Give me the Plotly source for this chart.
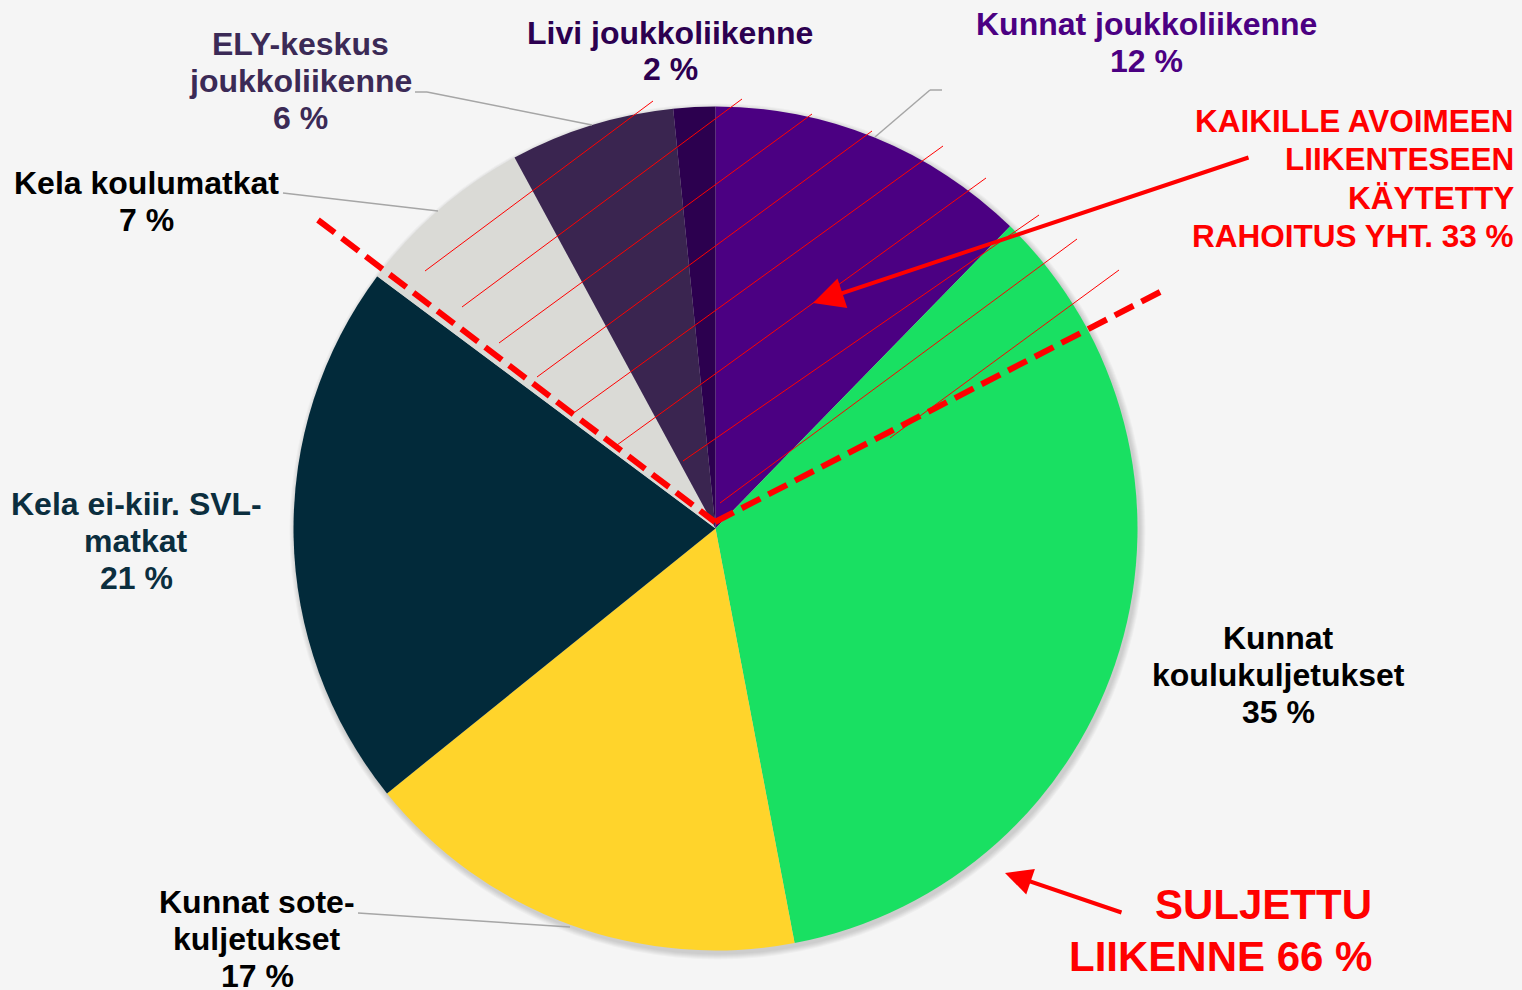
import plotly.graph_objects as go

W, H = 1522, 990

# ---------------- data ----------------
categories = [
    "Kunnat joukkoliikenne",
    "Kunnat koulukuljetukset",
    "Kunnat sote-kuljetukset",
    "Kela ei-kiir. SVL-matkat",
    "Kela koulumatkat",
    "ELY-keskus joukkoliikenne",
    "Livi joukkoliikenne",
]
label_lines = [
    ["Kunnat joukkoliikenne"],
    ["Kunnat", "koulukuljetukset"],
    ["Kunnat sote-", "kuljetukset"],
    ["Kela ei-kiir. SVL-", "matkat"],
    ["Kela koulumatkat"],
    ["ELY-keskus", "joukkoliikenne"],
    ["Livi joukkoliikenne"],
]
shares = [12.3, 34.7, 17.2, 21.0, 6.9, 6.3, 1.6]

open_traffic_lines = ["KAIKILLE AVOIMEEN", "LIIKENTESEEN", "KÄYTETTY", "RAHOITUS YHT. 33 %"]
closed_traffic_lines = ["SULJETTU", "LIIKENNE 66 %"]

# ---------------- styles / positions ----------------
slice_colors = ["#4B0082", "#19E062", "#FFD42B", "#022A3A", "#DADAD6", "#3A2550", "#2C004F"]
label_colors = ["#4B0082", "#000000", "#000000", "#0B2E3E", "#000000", "#3B2A56", "#2C0050"]
label_pos = [(1146, 42.5), (1278, 675), (257, 939), (136, 541), (146, 201), (300, 81), (670, 51)]

CX, CY, R = 715.5, 528.5, 422
FONT = "Liberation Sans, Arial, sans-serif"


def px(x):
    return x / W


def py(y):
    return 1 - y / H


fig = go.Figure()
fig.add_trace(go.Pie(
    labels=categories,
    values=shares,
    sort=False,
    direction="clockwise",
    rotation=0,
    textinfo="none",
    marker=dict(colors=slice_colors, line=dict(width=0)),
    domain=dict(x=[px(CX - R), px(CX + R)], y=[py(CY + R), py(CY - R)]),
    showlegend=False,
    hoverinfo="label+percent",
))

shapes = []
# soft shadow behind pie
for k in range(1, 7):
    rr = R + k
    ox, oy = 2, 3
    shapes.append(dict(type="circle", xref="paper", yref="paper", layer="below",
                       x0=px(CX + ox - rr), x1=px(CX + ox + rr),
                       y0=py(CY + oy + rr), y1=py(CY + oy - rr),
                       fillcolor="rgba(0,0,0,0.028)", line=dict(width=0)))

# leader lines
leaders = [
    [(942, 90), (930, 90), (875, 137)],
    [(358, 913), (570, 927)],
    [(283, 193), (438, 211)],
    [(415, 92), (427, 92), (592, 125)],
]
for pts in leaders:
    for (x0, y0), (x1, y1) in zip(pts[:-1], pts[1:]):
        shapes.append(dict(type="line", xref="paper", yref="paper",
                           x0=px(x0), y0=py(y0), x1=px(x1), y1=py(y1),
                           line=dict(color="#A6A6A6", width=1.5)))

# hatching over the open-traffic share
hatch = [
    ((425, 271), (653, 101)),
    ((462, 307), (742, 99)),
    ((499, 343), (812, 114)),
    ((537, 377), (872, 131)),
    ((575, 412), (943, 146)),
    ((617, 445), (986, 178)),
    ((683, 461), (1039, 215)),
    ((720, 503), (1077, 239)),
    ((890, 438), (1119, 270)),
]
for (x0, y0), (x1, y1) in hatch:
    shapes.append(dict(type="line", xref="paper", yref="paper",
                       x0=px(x0), y0=py(y0), x1=px(x1), y1=py(y1),
                       line=dict(color="#FF0000", width=1)))

# dashed dividers
for (x0, y0), (x1, y1) in [((318, 220), (715, 522)), ((715, 522), (1162, 291))]:
    shapes.append(dict(type="line", xref="paper", yref="paper",
                       x0=px(x0), y0=py(y0), x1=px(x1), y1=py(y1),
                       line=dict(color="#FF0000", width=6, dash="21px,9px")))

annotations = []


def add_block(lines, x, yc, spacing, size, color, anchor):
    n = len(lines)
    for i, t in enumerate(lines):
        yy = yc + (i - (n - 1) / 2) * spacing
        annotations.append(dict(
            x=px(x), y=py(yy), xref="paper", yref="paper",
            xanchor=anchor, yanchor="middle", showarrow=False, text=t,
            font=dict(family=FONT, size=size, color=color, weight="bold"),
        ))


for lines, v, (lx, ly), col in zip(label_lines, shares, label_pos, label_colors):
    add_block(lines + [f"{round(v)} %"], lx, ly, 37, 32, col, "center")

add_block(open_traffic_lines, 1516, 178.5, 38.5, 31.5, "#FF0000", "right")
add_block(closed_traffic_lines, 1374, 930, 52, 42, "#FF0000", "right")

# arrows
for (hx, hy), (tx, ty), sz in [((813, 303), (1250, 157), 1.55), ((1005, 873), (1123, 913), 1.35)]:
    annotations.append(dict(
        x=px(hx), y=py(hy), xref="paper", yref="paper",
        ax=tx - hx, ay=ty - hy, axref="pixel", ayref="pixel",
        text="", showarrow=True, arrowhead=2, arrowsize=sz, arrowwidth=4,
        arrowcolor="#FF0000", standoff=0,
    ))

fig.update_layout(
    width=W, height=H,
    margin=dict(l=0, r=0, t=0, b=0),
    paper_bgcolor="#F5F5F5",
    plot_bgcolor="#F5F5F5",
    shapes=shapes,
    annotations=annotations,
)

fig.write_html(
    "out.html",
    config={"displayModeBar": False},
    post_script="document.body.style.margin='0';document.body.style.overflow='hidden';",
)
